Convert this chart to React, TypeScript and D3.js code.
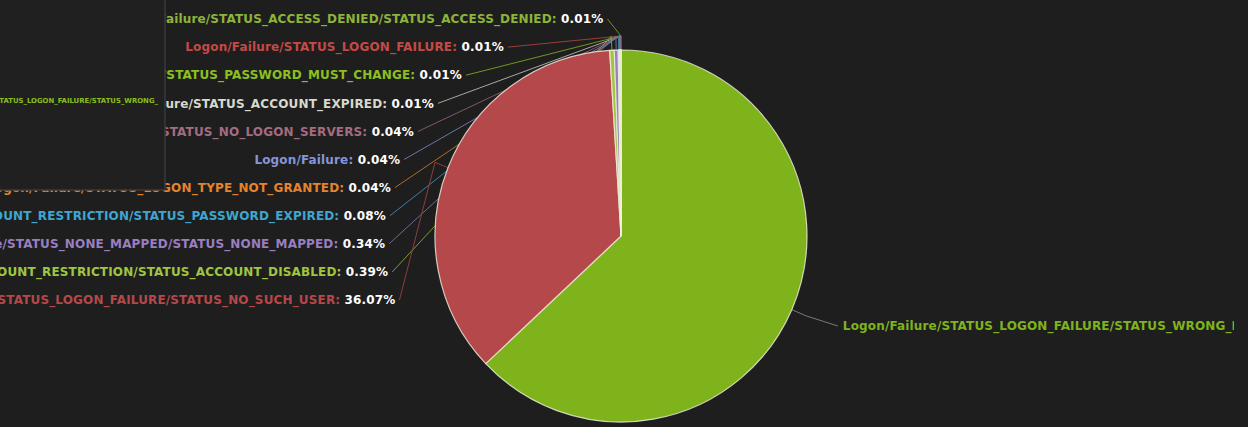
import React from "react";
import * as d3 from "d3";

const sliceNames = [
  "Logon/Failure/STATUS_LOGON_FAILURE/STATUS_WRONG_PASSWORD",
  "Logon/Failure/STATUS_LOGON_FAILURE/STATUS_NO_SUCH_USER",
  "Logon/Failure/STATUS_ACCOUNT_RESTRICTION/STATUS_ACCOUNT_DISABLED",
  "Logon/Failure/STATUS_NONE_MAPPED/STATUS_NONE_MAPPED",
  "Logon/Failure/STATUS_ACCOUNT_RESTRICTION/STATUS_PASSWORD_EXPIRED",
  "Logon/Failure/STATUS_LOGON_TYPE_NOT_GRANTED",
  "Logon/Failure",
  "Logon/Failure/STATUS_NO_LOGON_SERVERS",
  "Logon/Failure/STATUS_ACCOUNT_EXPIRED",
  "Logon/Failure/STATUS_ACCOUNT_RESTRICTION/STATUS_PASSWORD_MUST_CHANGE",
  "Logon/Failure/STATUS_LOGON_FAILURE",
  "Logon/Failure/STATUS_ACCESS_DENIED/STATUS_ACCESS_DENIED",
];

const sliceValues = [62.96, 36.07, 0.39, 0.34, 0.08, 0.04, 0.04, 0.04, 0.01, 0.01, 0.01, 0.01];

const sliceColors = [
  "#7fb31c",
  "#b5484a",
  "#a0c640",
  "#9a7fc0",
  "#3ea6d0",
  "#e5842c",
  "#8595da",
  "#a46c80",
  "#d8d8cc",
  "#8cc020",
  "#c44a48",
  "#8db43a",
];

const W = 1248;
const H = 427;
const cx = 621;
const cy = 236;
const R = 186;

export default function App() {
  const pie = d3
    .pie<number>()
    .sort(null)
    .value((d) => d)
    .startAngle(0)
    .endAngle(2 * Math.PI);
  const arcs = pie(sliceValues);
  const arc = d3.arc<d3.PieArcDatum<number>>().innerRadius(0).outerRadius(R);

  const pt = (a: number, r: number): [number, number] => [cx + r * Math.sin(a), cy - r * Math.cos(a)];
  const ellX = (y: number) => {
    const dy = y - cy;
    const t = Math.max(0, 1 - (dy / 217.6) ** 2);
    return 236 * Math.sqrt(t);
  };

  // left side labels: slices 1..11, listed bottom to top
  const leftIdx = d3.range(1, sliceNames.length).reverse();
  const leftLabels = leftIdx.map((si, i) => {
    const y = 19 + i * 28.1;
    const endX = cx - ellX(y);
    return { si, y, endX };
  });

  const fmt = (v: number) => v.toFixed(2) + "%";
  const line = d3.line();

  const rightY = 326;
  const rightX = cx + ellX(rightY) + 7;
  const greenMid = (arcs[0].startAngle + arcs[0].endAngle) / 2;

  return (
    <svg
      width={W}
      height={H}
      style={{ position: "absolute", left: 0, top: 0, background: "#1e1e1e" }}
      fontFamily="'DejaVu Sans', Verdana, sans-serif"
    >
      <defs>
        <clipPath id="rclip">
          <rect x={0} y={0} width={1234} height={H} />
        </clipPath>
        <clipPath id="tclip">
          <rect x={0} y={0} width={159} height={190} />
        </clipPath>
      </defs>
      <rect x={0} y={0} width={W} height={H} fill="#1e1e1e" />

      {/* connectors */}
      <g fill="none" strokeWidth={1} opacity={0.75}>
        {leftLabels.map(({ si, y, endX }) => {
          const a = (arcs[si].startAngle + arcs[si].endAngle) / 2;
          const p1 = pt(a, R + 14);
          const p2 = pt(a, R);
          return (
            <path
              key={si}
              d={line([[endX + 4, y], p1, p2]) || ""}
              stroke={sliceColors[si]}
            />
          );
        })}
        <path
          d={line([pt(greenMid, R), pt(greenMid, R + 16), [rightX - 5, rightY]]) || ""}
          stroke="#9a9a8a"
        />
      </g>

      {/* slices */}
      <g transform={`translate(${cx},${cy})`}>
        {arcs.map((d, i) => (
          <path
            key={i}
            d={arc(d) || ""}
            fill={sliceColors[i]}
            stroke="#f0f0e0"
            strokeOpacity={0.8}
            strokeWidth={1.2}
          />
        ))}
      </g>

      {/* labels */}
      <g fontSize={12} fontWeight="bold" letterSpacing={0.15}>
        {leftLabels.map(({ si, y, endX }) => (
          <text key={si} x={endX} y={y} dy="0.35em" textAnchor="end">
            <tspan fill={sliceColors[si]}>{sliceNames[si] + ": "}</tspan>
            <tspan fill="#ffffff">{fmt(sliceValues[si])}</tspan>
          </text>
        ))}
        <g clipPath="url(#rclip)">
          <text x={rightX} y={rightY} dy="0.35em" fill={sliceColors[0]}>
            {sliceNames[0] + ": "}
            <tspan fill="#ffffff">{fmt(sliceValues[0])}</tspan>
          </text>
        </g>
      </g>

      {/* tooltip box */}
      <rect x={-2} y={-2} width={167} height={192} fill="#202020" stroke="#3a3a3a" strokeWidth={1.5} />
      <g clipPath="url(#tclip)">
        <text x={158} y={101} dy="0.35em" textAnchor="end" fontSize={6.9} fontWeight="bold" fill="#8cbf1e">
          Logon/Failure/STATUS_LOGON_FAILURE/STATUS_WRONG_
        </text>
      </g>
    </svg>
  );
}
